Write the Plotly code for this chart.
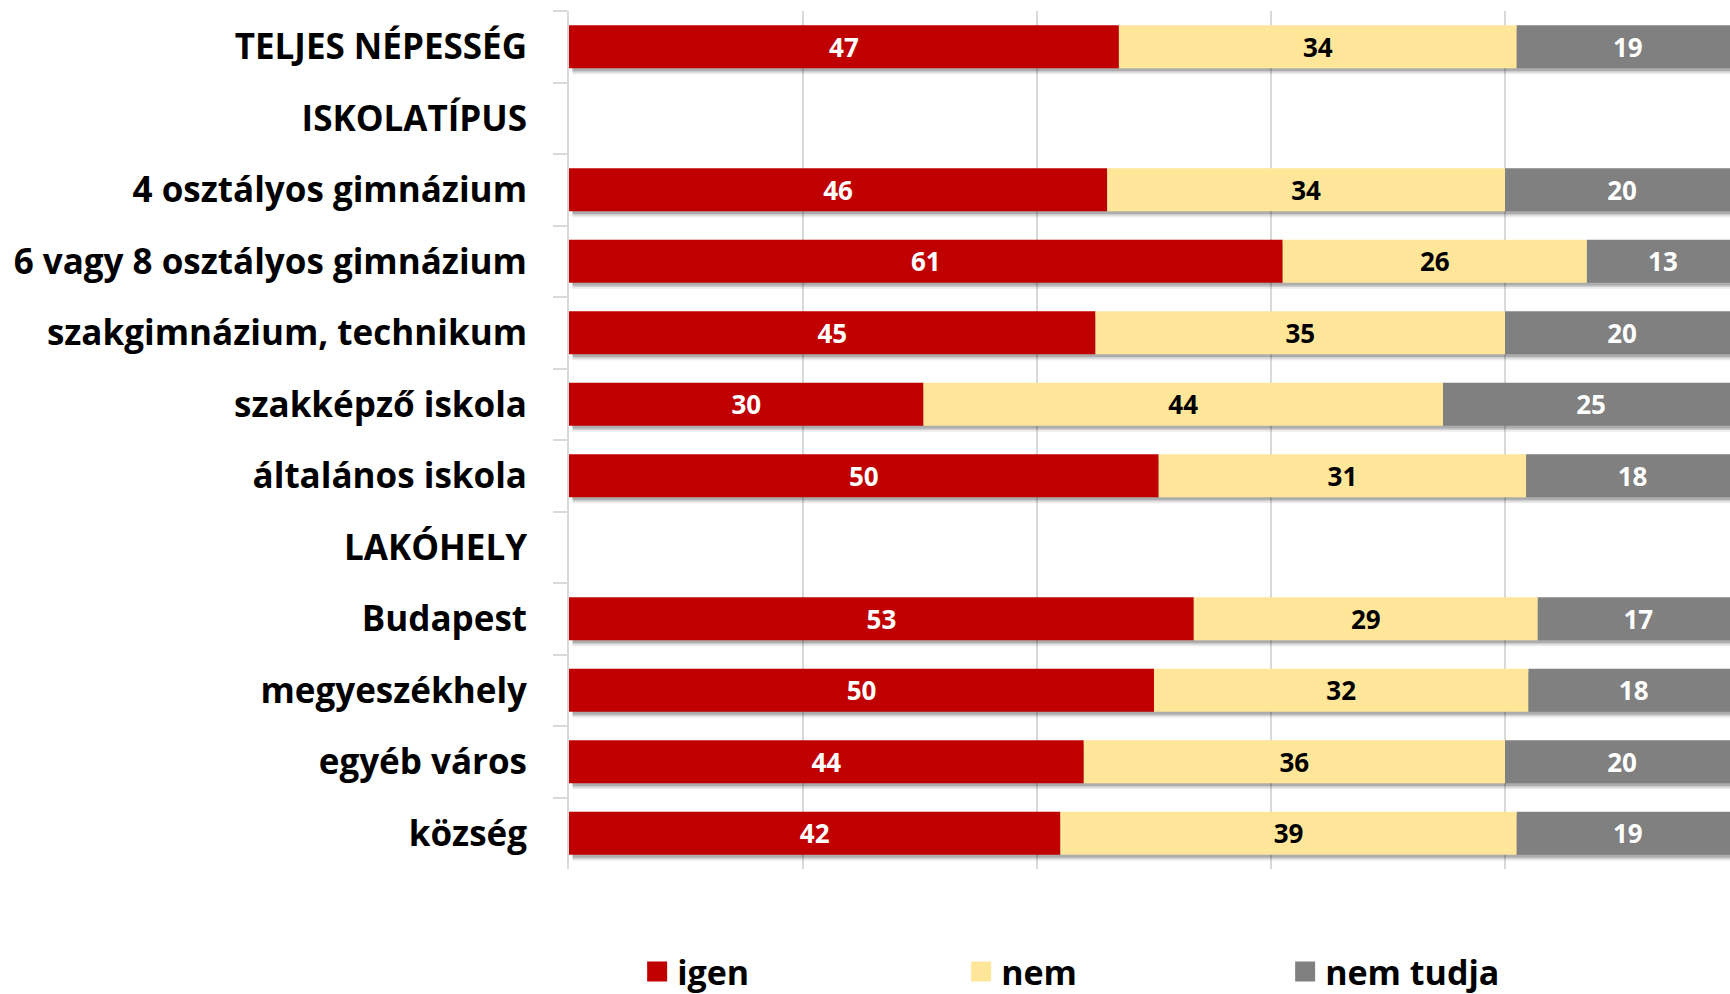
import plotly.graph_objects as go

categories = [
    "TELJES NÉPESSÉG",
    "ISKOLATÍPUS",
    "4 osztályos gimnázium",
    "6 vagy 8 osztályos gimnázium",
    "szakgimnázium, technikum",
    "szakképző iskola",
    "általános iskola",
    "LAKÓHELY",
    "Budapest",
    "megyeszékhely",
    "egyéb város",
    "község",
]

igen = [47, None, 46, 61, 45, 30.3, 50.4, None, 53.4, 50, 44, 42]
nem = [34, None, 34, 26, 35, 44.4, 31.4, None, 29.4, 32, 36, 39]
nem_tudja = [19, None, 20, 13, 20, 25.3, 18.2, None, 17.2, 18, 20, 19]

FONT = "Open Sans"


def nz(v):
    return 0 if v is None else v


# stacking done by hand so a soft shadow can sit under each bar
base_nem = [nz(a) for a in igen]
base_nt = [nz(a) + nz(b) for a, b in zip(igen, nem)]
totals = [None if a is None else nz(a) + nz(b) + nz(c) for a, b, c in zip(igen, nem, nem_tudja)]

fig = go.Figure()

# drop shadow
for shift, alpha in [(0.085, 0.08), (0.06, 0.12), (0.04, 0.16)]:
    fig.add_trace(go.Bar(
        y=categories, x=totals, base=0.3, orientation="h",
        width=0.6, offset=-0.3 + shift,
        marker=dict(color=f"rgba(0,0,0,{alpha})", line=dict(width=0)),
        hoverinfo="skip", showlegend=False,
    ))

series = [
    ("igen", igen, [0] * len(igen), "#c00000", "white"),
    ("nem", nem, base_nem, "#ffe699", "black"),
    ("nem tudja", nem_tudja, base_nt, "#808080", "white"),
]

for name, vals, base, color, txtcolor in series:
    fig.add_trace(go.Bar(
        y=categories,
        x=vals,
        base=base,
        name=name,
        orientation="h",
        width=0.6,
        marker=dict(color=color, line=dict(width=0)),
        text=[None if v is None else f"{v:.0f}" for v in vals],
        textposition="inside",
        insidetextanchor="middle",
        textangle=0,
        constraintext="none",
        textfont=dict(family=FONT, size=26, color=txtcolor, weight="bold"),
        showlegend=False,
    ))
    # legend entry with a bigger square
    fig.add_trace(go.Scatter(
        x=[None], y=[None], mode="markers", name=name,
        marker=dict(symbol="square", size=22, color=color,
                    line=dict(width=4, color=color)),
    ))

fig.update_layout(
    width=1730,
    height=994,
    barmode="overlay",
    plot_bgcolor="white",
    paper_bgcolor="white",
    margin=dict(t=11, l=569, r=0, b=125, autoexpand=False),
    font=dict(family=FONT, size=35, color="black", weight="bold"),
    xaxis=dict(
        range=[0, 99.23],
        tickvals=[20, 40, 60, 80],
        showticklabels=False,
        showgrid=True,
        gridcolor="#d9d9d9",
        gridwidth=2,
        zeroline=False,
        showline=False,
    ),
    yaxis=dict(
        autorange="reversed",
        type="category",
        showline=True,
        linecolor="#d9d9d9",
        linewidth=2,
        ticks="outside",
        tickson="boundaries",
        ticklen=14,
        tickcolor="#d9d9d9",
        tickwidth=2,
        ticklabelstandoff=33,
        showgrid=False,
        tickfont=dict(family=FONT, size=35, color="black", weight="bold"),
    ),
    legend=dict(
        orientation="h",
        traceorder="normal",
        x=0.0587,
        xanchor="left",
        y=-0.12,
        yanchor="middle",
        entrywidth=279,
        entrywidthmode="pixels",
        font=dict(family=FONT, size=34, color="black", weight="bold"),
        itemclick=False,
    ),
)

fig.write_html(
    "out.html",
    config={"displayModeBar": False},
    post_script="document.body.style.margin='0';",
)
